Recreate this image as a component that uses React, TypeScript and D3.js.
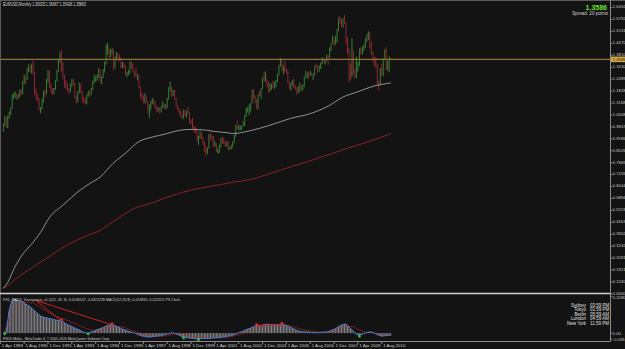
import React, { useEffect, useRef } from 'react';
import * as d3 from 'd3';

const W = 625;
const H = 349;

// EURUSD monthly bars, Jun 1989 .. Feb 2011 (one row per year)
const high = [
  1.005, 1.045, 1.040, 1.050, 1.070, 1.095, 1.165,
  1.175, 1.180, 1.170, 1.165, 1.190, 1.195, 1.240, 1.275, 1.265, 1.310, 1.330, 1.325,
  1.335, 1.350, 1.290, 1.195, 1.165, 1.145, 1.095, 1.140, 1.185, 1.190, 1.250, 1.300,
  1.295, 1.225, 1.200, 1.200, 1.245, 1.300, 1.355, 1.400, 1.410, 1.345, 1.275, 1.245,
  1.230, 1.200, 1.225, 1.250, 1.250, 1.230, 1.160, 1.185, 1.230, 1.225, 1.185, 1.150,
  1.145, 1.165, 1.185, 1.185, 1.200, 1.240, 1.275, 1.265, 1.275, 1.310, 1.305, 1.265,
  1.305, 1.345, 1.440, 1.450, 1.425, 1.415, 1.420, 1.415, 1.375, 1.400, 1.395, 1.385,
  1.370, 1.345, 1.340, 1.325, 1.290, 1.300, 1.350, 1.345, 1.335, 1.295, 1.310, 1.280,
  1.270, 1.210, 1.175, 1.160, 1.170, 1.160, 1.125, 1.110, 1.130, 1.145, 1.140, 1.125,
  1.100, 1.095, 1.090, 1.100, 1.125, 1.115, 1.110, 1.145, 1.205, 1.235, 1.205, 1.190,
  1.190, 1.145, 1.105, 1.090, 1.075, 1.055, 1.080, 1.080, 1.075, 1.095, 1.065, 1.025,
  1.035, 0.990, 0.985, 0.975, 0.935, 0.965, 0.955, 0.930, 0.905, 0.880, 0.870, 0.945,
  0.955, 0.940, 0.935, 0.905, 0.895, 0.865, 0.885, 0.925, 0.930, 0.925, 0.905, 0.905,
  0.905, 0.875, 0.885, 0.905, 0.940, 0.995, 1.020, 0.995, 0.995, 0.990, 1.015, 1.050,
  1.090, 1.095, 1.110, 1.120, 1.190, 1.195, 1.160, 1.140, 1.165, 1.185, 1.200, 1.260,
  1.290, 1.290, 1.250, 1.235, 1.225, 1.225, 1.240, 1.235, 1.245, 1.280, 1.330, 1.367,
  1.360, 1.325, 1.350, 1.310, 1.295, 1.235, 1.230, 1.245, 1.250, 1.215, 1.205, 1.210,
  1.230, 1.215, 1.220, 1.265, 1.295, 1.285, 1.290, 1.295, 1.285, 1.280, 1.325, 1.335,
  1.325, 1.325, 1.340, 1.370, 1.365, 1.355, 1.385, 1.380, 1.425, 1.450, 1.490, 1.475,
  1.490, 1.525, 1.590, 1.600, 1.585, 1.585, 1.604, 1.565, 1.480, 1.420, 1.335, 1.475,
  1.410, 1.305, 1.375, 1.345, 1.420, 1.425, 1.430, 1.445, 1.475, 1.500, 1.515, 1.510,
  1.455, 1.400, 1.375, 1.370, 1.335, 1.240, 1.310, 1.335, 1.365, 1.415, 1.428, 1.350,
  1.376, 1.3667,
];
const low = [
  0.958, 0.990, 0.980, 0.978, 1.030, 1.050, 1.085,
  1.140, 1.145, 1.135, 1.140, 1.150, 1.160, 1.165, 1.220, 1.225, 1.245, 1.290, 1.285,
  1.280, 1.275, 1.160, 1.135, 1.125, 1.075, 1.060, 1.080, 1.120, 1.150, 1.165, 1.230,
  1.200, 1.170, 1.160, 1.165, 1.190, 1.235, 1.290, 1.340, 1.290, 1.250, 1.200, 1.195,
  1.180, 1.165, 1.175, 1.205, 1.215, 1.140, 1.115, 1.120, 1.170, 1.170, 1.125, 1.115,
  1.110, 1.110, 1.150, 1.155, 1.160, 1.190, 1.225, 1.235, 1.240, 1.255, 1.230, 1.220,
  1.255, 1.285, 1.330, 1.385, 1.365, 1.370, 1.385, 1.300, 1.310, 1.355, 1.350, 1.350,
  1.310, 1.310, 1.310, 1.270, 1.260, 1.270, 1.280, 1.305, 1.285, 1.265, 1.260, 1.245,
  1.200, 1.145, 1.135, 1.115, 1.115, 1.115, 1.060, 1.035, 1.075, 1.110, 1.105, 1.085,
  1.065, 1.070, 1.060, 1.065, 1.090, 1.085, 1.080, 1.090, 1.135, 1.180, 1.150, 1.155,
  1.135, 1.095, 1.075, 1.055, 1.040, 1.025, 1.030, 1.045, 1.035, 1.055, 1.005, 1.000,
  0.970, 0.955, 0.950, 0.905, 0.885, 0.920, 0.915, 0.885, 0.845, 0.823, 0.835, 0.865,
  0.915, 0.905, 0.875, 0.875, 0.845, 0.837, 0.840, 0.870, 0.890, 0.890, 0.875, 0.875,
  0.855, 0.860, 0.860, 0.870, 0.895, 0.930, 0.970, 0.965, 0.965, 0.965, 0.985, 0.990,
  1.040, 1.065, 1.050, 1.070, 1.115, 1.140, 1.115, 1.085, 1.080, 1.155, 1.140, 1.195,
  1.235, 1.235, 1.205, 1.175, 1.180, 1.190, 1.200, 1.195, 1.205, 1.230, 1.270, 1.320,
  1.295, 1.275, 1.290, 1.280, 1.230, 1.195, 1.185, 1.210, 1.200, 1.190, 1.165, 1.170,
  1.180, 1.185, 1.185, 1.205, 1.260, 1.250, 1.255, 1.270, 1.265, 1.245, 1.270, 1.310,
  1.285, 1.290, 1.305, 1.330, 1.340, 1.330, 1.350, 1.330, 1.365, 1.405, 1.445, 1.430,
  1.440, 1.450, 1.515, 1.555, 1.535, 1.535, 1.555, 1.445, 1.390, 1.233, 1.245, 1.260,
  1.275, 1.250, 1.255, 1.290, 1.320, 1.385, 1.385, 1.405, 1.420, 1.455, 1.465, 1.420,
  1.385, 1.345, 1.325, 1.310, 1.220, 1.188, 1.215, 1.265, 1.265, 1.355, 1.297, 1.297,
  1.287, 1.3543,
];
const close = [
  0.997, 1.038, 0.995, 1.045, 1.062, 1.090, 1.158,
  1.160, 1.165, 1.150, 1.158, 1.175, 1.170, 1.235, 1.260, 1.245, 1.300, 1.320, 1.300,
  1.325, 1.285, 1.180, 1.150, 1.140, 1.085, 1.090, 1.125, 1.180, 1.170, 1.240, 1.290,
  1.210, 1.180, 1.170, 1.195, 1.240, 1.295, 1.345, 1.390, 1.330, 1.260, 1.215, 1.210,
  1.190, 1.180, 1.215, 1.240, 1.225, 1.150, 1.125, 1.175, 1.220, 1.180, 1.140, 1.125,
  1.115, 1.160, 1.175, 1.170, 1.195, 1.235, 1.255, 1.255, 1.265, 1.300, 1.240, 1.260,
  1.295, 1.335, 1.405, 1.420, 1.385, 1.405, 1.410, 1.320, 1.365, 1.390, 1.375, 1.365,
  1.320, 1.330, 1.320, 1.275, 1.280, 1.285, 1.335, 1.325, 1.290, 1.270, 1.265, 1.265,
  1.205, 1.160, 1.150, 1.120, 1.150, 1.120, 1.065, 1.090, 1.120, 1.135, 1.120, 1.095,
  1.075, 1.085, 1.070, 1.095, 1.110, 1.095, 1.105, 1.140, 1.195, 1.200, 1.165, 1.170,
  1.140, 1.100, 1.080, 1.060, 1.045, 1.035, 1.070, 1.060, 1.070, 1.060, 1.010, 1.005,
  0.970, 0.965, 0.955, 0.910, 0.935, 0.955, 0.925, 0.890, 0.880, 0.850, 0.870, 0.940,
  0.935, 0.920, 0.880, 0.890, 0.850, 0.850, 0.875, 0.915, 0.910, 0.900, 0.885, 0.890,
  0.860, 0.870, 0.870, 0.900, 0.935, 0.990, 0.980, 0.980, 0.985, 0.990, 0.995, 1.050,
  1.080, 1.080, 1.090, 1.120, 1.180, 1.150, 1.125, 1.100, 1.165, 1.160, 1.200, 1.260,
  1.245, 1.245, 1.230, 1.195, 1.220, 1.220, 1.200, 1.220, 1.240, 1.275, 1.330, 1.355,
  1.305, 1.325, 1.295, 1.290, 1.230, 1.210, 1.215, 1.230, 1.205, 1.200, 1.180, 1.185,
  1.215, 1.190, 1.210, 1.260, 1.280, 1.280, 1.275, 1.280, 1.270, 1.275, 1.325, 1.320,
  1.300, 1.325, 1.335, 1.365, 1.345, 1.350, 1.370, 1.365, 1.425, 1.450, 1.465, 1.460,
  1.485, 1.520, 1.580, 1.560, 1.555, 1.575, 1.560, 1.470, 1.410, 1.275, 1.270, 1.400,
  1.280, 1.265, 1.325, 1.325, 1.415, 1.405, 1.425, 1.435, 1.465, 1.470, 1.500, 1.435,
  1.385, 1.360, 1.350, 1.330, 1.230, 1.225, 1.305, 1.270, 1.365, 1.395, 1.300, 1.340,
  1.370, 1.35863,
];
const firstOpen = 0.980;
const bid = 1.35863;

// moving averages (bar index, price)
const maWhiteIdx = [0, 3, 8, 12, 20, 25, 31, 40, 51.5, 58, 65, 73.5, 83, 90.5, 98.5, 105, 110, 118.5, 127, 136.5, 141, 150, 154, 165.5, 179, 192.5, 206, 219, 228, 237.5, 248, 260];
const maWhite = [0.091, 0.124, 0.213, 0.268, 0.346, 0.401, 0.484, 0.551, 0.634, 0.671, 0.707, 0.781, 0.846, 0.901, 0.925, 0.938, 0.948, 0.966, 0.971, 0.966, 0.960, 0.953, 0.948, 0.963, 0.994, 1.031, 1.058, 1.104, 1.150, 1.178, 1.209, 1.228];
const maRedIdx = [0, 3, 8, 20, 29, 42.5, 53.5, 65, 76, 87.5, 98.5, 109, 121, 132, 143, 154, 165.5, 185.5, 207, 219, 230.5, 246, 260];
const maRed = [0.091, 0.105, 0.141, 0.209, 0.257, 0.329, 0.373, 0.412, 0.473, 0.532, 0.560, 0.592, 0.624, 0.645, 0.661, 0.678, 0.693, 0.744, 0.800, 0.833, 0.865, 0.905, 0.948];

const priceTicks = [1.6452, 1.57915, 1.5131, 1.44705, 1.381, 1.31495, 1.2489, 1.18285, 1.1168, 1.05075, 0.9847, 0.91865, 0.8526, 0.78655, 0.7205, 0.65445, 0.5884, 0.52235, 0.4563, 0.39025, 0.3242, 0.25815, 0.1921, 0.12605, 0.06];

const dateLabels = ['1 Apr 1989', '1 Aug 1990', '1 Dec 1991', '1 Apr 1993', '1 Aug 1994', '1 Dec 1995', '1 Apr 1997', '1 Aug 1998', '1 Dec 1999', '1 Apr 2001', '1 Aug 2002', '1 Dec 2003', '1 Apr 2005', '1 Aug 2006', '1 Dec 2007', '1 Apr 2009', '1 Aug 2010'];

// MACD(12,26,9) main per bar
const macd = [
  0.000, 0.002, 0.015, 0.070, 0.130, 0.165, 0.182,
  0.190, 0.191, 0.189, 0.186, 0.183, 0.180, 0.176, 0.172, 0.166, 0.160, 0.156, 0.150,
  0.143, 0.135, 0.127, 0.119, 0.111, 0.104, 0.098, 0.094, 0.091, 0.089, 0.087, 0.085,
  0.083, 0.081, 0.079, 0.077, 0.075, 0.073, 0.071, 0.070, 0.069, 0.066, 0.060, 0.054,
  0.049, 0.045, 0.042, 0.038, 0.034, 0.030, 0.026, 0.022, 0.019, 0.014, 0.009, 0.005,
  0.002, 0.000, 0.001, 0.004, 0.007, 0.010, 0.013, 0.016, 0.020, 0.023, 0.026, 0.029,
  0.032, 0.036, 0.040, 0.044, 0.047, 0.048, 0.047, 0.045, 0.042, 0.038, 0.034, 0.031,
  0.027, 0.023, 0.020, 0.017, 0.014, 0.011, 0.008, 0.006, 0.004, 0.001, -0.003, -0.007,
  -0.010, -0.013, -0.016, -0.018, -0.020, -0.021, -0.022, -0.022, -0.021, -0.020, -0.019, -0.018,
  -0.017, -0.016, -0.015, -0.013, -0.011, -0.009, -0.006, -0.004, -0.002, 0.000, 0.002, 0.001,
  -0.001, -0.004, -0.008, -0.012, -0.016, -0.020, -0.022, -0.024, -0.026, -0.027, -0.028, -0.029,
  -0.030, -0.031, -0.031, -0.032, -0.032, -0.031, -0.031, -0.030, -0.030, -0.031, -0.031, -0.030,
  -0.029, -0.028, -0.027, -0.026, -0.025, -0.025, -0.025, -0.024, -0.023, -0.021, -0.020, -0.018,
  -0.017, -0.015, -0.014, -0.012, -0.009, -0.005, -0.001, 0.003, 0.006, 0.009, 0.012, 0.016,
  0.020, 0.023, 0.026, 0.029, 0.033, 0.036, 0.039, 0.042, 0.043, 0.044, 0.045, 0.046,
  0.048, 0.050, 0.051, 0.050, 0.049, 0.048, 0.047, 0.046, 0.046, 0.046, 0.047, 0.048,
  0.049, 0.048, 0.046, 0.043, 0.040, 0.036, 0.032, 0.028, 0.024, 0.020, 0.016, 0.013,
  0.011, 0.009, 0.008, 0.007, 0.007, 0.006, 0.006, 0.005, 0.004, 0.003, 0.002, 0.002,
  0.002, 0.003, 0.004, 0.005, 0.006, 0.006, 0.007, 0.008, 0.011, 0.015, 0.019, 0.022,
  0.026, 0.031, 0.037, 0.042, 0.046, 0.049, 0.051, 0.050, 0.045, 0.035, 0.025, 0.020,
  0.010, 0.002, -0.006, -0.010, -0.012, -0.009, -0.005, -0.002, 0.001, 0.003, 0.005, 0.007,
  0.006, 0.004, 0.000, -0.004, -0.008, -0.012, -0.015, -0.017, -0.016, -0.015, -0.014, -0.012,
  -0.012, -0.0138,
];
const signalIdx = [0, 4, 8, 12, 16, 20, 26, 33, 39, 45, 52, 57, 63, 70, 75, 80, 85, 92, 98, 105, 112, 118, 123, 131, 138, 145, 154, 161, 170, 177, 187, 193, 199, 206, 212, 217, 224, 229, 234, 239, 243, 248, 253, 260];
const signal = [0.0, 0.06, 0.12, 0.16, 0.175, 0.17, 0.14, 0.105, 0.085, 0.065, 0.04, 0.022, 0.015, 0.028, 0.038, 0.035, 0.02, 0.0, -0.015, -0.018, -0.01, -0.004, -0.012, -0.024, -0.029, -0.027, -0.018, -0.002, 0.028, 0.043, 0.048, 0.04, 0.025, 0.012, 0.006, 0.005, 0.015, 0.035, 0.038, 0.018, 0.006, 0.003, -0.008, -0.012];
const peakIdx = [39, 73, 170, 187];
const troughIdx = [1, 57, 121, 131, 239];
const divFromIdx = [22, 22, 170];
const divFromVal = [0.185, 0.185, 0.042];
const divToIdx = [39, 73, 187];

const cities = ['Sydney', 'Tokyo', 'Berlin', 'London', 'New York'];
const clockTimes = ['03:59 PM', '01:59 PM', '05:59 AM', '04:59 AM', '11:59 PM'];

const FONT = '"Liberation Sans", Arial, sans-serif';

export default function App() {
  const svgRef = useRef<SVGSVGElement>(null);

  useEffect(() => {
    if (!svgRef.current) return;
    const svg = d3.select(svgRef.current);
    svg.selectAll('*').remove();

    const axisX = 610.5;
    const mainBottom = 293.5;
    const indTop = 295;
    const indBottom = 341.5;

    const x = d3.scaleLinear().domain([0, close.length - 1]).range([3.3, 390.7]);
    const y = d3.scaleLinear().domain([0.06, 1.6452]).range([293.9, 7.6]);
    const ym = d3.scaleLinear().domain([-0.035, 0.209]).range([339.3, 296.3]);

    svg.append('rect').attr('width', W).attr('height', H).attr('fill', '#131313');

    const defs = svg.append('defs');
    defs.append('clipPath').attr('id', 'mainClip')
      .append('rect').attr('x', 1).attr('y', 1).attr('width', axisX - 1).attr('height', mainBottom - 1);
    defs.append('clipPath').attr('id', 'indClip')
      .append('rect').attr('x', 1).attr('y', indTop).attr('width', axisX - 1).attr('height', indBottom - indTop);

    // price bars
    const main = svg.append('g').attr('clip-path', 'url(#mainClip)');
    const open = close.map((c, i) => (i === 0 ? firstOpen : close[i - 1]));
    main.selectAll('line.bar')
      .data(close)
      .join('line')
      .attr('class', 'bar')
      .attr('x1', (_, i) => x(i)).attr('x2', (_, i) => x(i))
      .attr('y1', (_, i) => y(high[i])).attr('y2', (_, i) => y(low[i]))
      .attr('stroke', (c, i) => (c >= open[i] ? '#3c9438' : '#a52c3a'))
      .attr('stroke-width', 0.85);

    // moving averages
    const maLine = d3.line<number>().curve(d3.curveMonotoneX);
    main.append('path')
      .attr('d', maLine.x((_, i) => x(maRedIdx[i])).y((v) => y(v))(maRed))
      .attr('fill', 'none').attr('stroke', '#9c2429').attr('stroke-width', 0.9);
    main.append('path')
      .attr('d', maLine.x((_, i) => x(maWhiteIdx[i])).y((v) => y(v))(maWhite))
      .attr('fill', 'none').attr('stroke', '#a9a9a9').attr('stroke-width', 0.85);

    // bid line
    svg.append('line')
      .attr('x1', 1).attr('x2', axisX).attr('y1', y(bid)).attr('y2', y(bid))
      .attr('stroke', '#8f7434').attr('stroke-width', 1.3);

    // header texts
    svg.append('text').attr('x', 3).attr('y', 6.2)
      .attr('font-family', FONT).attr('font-size', 4.8).attr('fill', '#d8d8d8')
      .attr('textLength', 83).attr('lengthAdjust', 'spacingAndGlyphs')
      .text('EURUSD,Monthly  1.36025 1.36667 1.35428 1.35863');
    svg.append('text').attr('x', 607).attr('y', 9.6).attr('text-anchor', 'end')
      .attr('font-family', FONT).attr('font-size', 7).attr('font-weight', 'bold').attr('fill', '#6fe12a')
      .text(bid.toFixed(4));
    svg.append('text').attr('x', 608).attr('y', 15.4).attr('text-anchor', 'end')
      .attr('font-family', FONT).attr('font-size', 4.6).attr('fill', '#cfcfcf')
      .text('Spread: 20 points');

    // indicator pane
    const ind = svg.append('g').attr('clip-path', 'url(#indClip)');
    ind.selectAll('line.hist')
      .data(macd)
      .join('line')
      .attr('class', 'hist')
      .attr('x1', (_, i) => x(i)).attr('x2', (_, i) => x(i))
      .attr('y1', ym(0)).attr('y2', (v) => ym(v))
      .attr('stroke', '#a3a3a8').attr('stroke-width', 0.8);
    ind.append('path')
      .attr('d', d3.line<number>().x((_, i) => x(signalIdx[i])).y((v) => ym(v)).curve(d3.curveMonotoneX)(signal))
      .attr('fill', 'none').attr('stroke', '#d42a2a').attr('stroke-width', 0.9).attr('stroke-dasharray', '1.2,0.9');
    ind.append('path')
      .attr('d', d3.line<number>().x((_, i) => x(i)).y((v) => ym(v))(macd))
      .attr('fill', 'none').attr('stroke', '#4a7bd2').attr('stroke-width', 1);
    divToIdx.forEach((to, k) => {
      ind.append('line')
        .attr('x1', x(divFromIdx[k])).attr('y1', ym(divFromVal[k]))
        .attr('x2', x(to)).attr('y2', ym(macd[to]))
        .attr('stroke', '#cc2020').attr('stroke-width', 1);
    });
    ind.selectAll('circle.peak').data(peakIdx).join('circle')
      .attr('cx', (i) => x(i)).attr('cy', (i) => ym(macd[i]) - 1).attr('r', 1.4).attr('fill', '#ee3030');
    ind.selectAll('circle.trough').data(troughIdx).join('circle')
      .attr('cx', (i) => x(i)).attr('cy', (i) => ym(macd[i]) + 1).attr('r', 1.4).attr('fill', '#2fc23a');

    svg.append('text').attr('x', 3).attr('y', 300.6)
      .attr('font-family', FONT).attr('font-size', 4.4).attr('fill', '#d0d0d0')
      .attr('textLength', 177).attr('lengthAdjust', 'spacingAndGlyphs')
      .text('FX5_MACD_Divergence_v1.1(12, 26, 9) -0.0130147 -0.0222228  MACD(12,26,9) -0.013815 -0.022221  PX Clock');
    svg.append('text').attr('x', 3).attr('y', 339.6)
      .attr('font-family', FONT).attr('font-size', 4.4).attr('fill', '#d0d0d0')
      .attr('textLength', 107).attr('lengthAdjust', 'spacingAndGlyphs')
      .text('FXDD Malta - MetaTrader 4, \u00a9 2001-2010 MetaQuotes Software Corp.');

    cities.forEach((c, k) => {
      const yy = 306.6 + k * 4.55;
      svg.append('text').attr('x', 586).attr('y', yy).attr('text-anchor', 'end')
        .attr('font-family', FONT).attr('font-size', 4.5).attr('fill', '#e0e0e0').text(c);
      svg.append('text').attr('x', 590).attr('y', yy)
        .attr('font-family', FONT).attr('font-size', 4.5).attr('fill', '#e0e0e0').text(clockTimes[k]);
    });

    // frame
    const frame = '#8c8c8c';
    svg.append('line').attr('x1', 0).attr('x2', W).attr('y1', 0.5).attr('y2', 0.5).attr('stroke', '#5c5c5c');
    svg.append('line').attr('x1', 0.5).attr('x2', 0.5).attr('y1', 0).attr('y2', indBottom).attr('stroke', '#5c5c5c');
    svg.append('line').attr('x1', axisX).attr('x2', axisX).attr('y1', 0).attr('y2', indBottom).attr('stroke', frame);
    svg.append('line').attr('x1', 0).attr('x2', axisX).attr('y1', mainBottom).attr('y2', mainBottom)
      .attr('stroke', '#d0d0d0').attr('stroke-width', 1.4);
    svg.append('line').attr('x1', 0).attr('x2', axisX).attr('y1', indBottom).attr('y2', indBottom).attr('stroke', frame);

    // price axis (labels shifted slightly up so the last one clears the indicator pane)
    const pa = svg.append('g');
    priceTicks.forEach((p) => {
      pa.append('line').attr('x1', axisX).attr('x2', axisX + 2).attr('y1', y(p)).attr('y2', y(p)).attr('stroke', frame);
      pa.append('text').attr('x', 612.8).attr('y', y(p)).attr('dy', '0.2em')
        .attr('font-family', FONT).attr('font-size', 4.2).attr('fill', '#c8c8c8').text(p.toFixed(4));
    });
    pa.append('rect').attr('x', axisX + 0.5).attr('y', y(bid) - 2.8).attr('width', W - axisX).attr('height', 5.6)
      .attr('fill', '#d2a83f');
    pa.append('text').attr('x', 612.8).attr('y', y(bid)).attr('dy', '0.35em')
      .attr('font-family', FONT).attr('font-size', 4.2).attr('fill', '#1a1a1a').text(bid.toFixed(4));

    // indicator axis
    const macdTicks = [0.209, 0, -0.035];
    const macdTickText = ['0.2090', '0.00', '-0.035'];
    const macdDy = ['0.75em', '0.35em', '0.3em'];
    macdTicks.forEach((v, k) => {
      pa.append('line').attr('x1', axisX).attr('x2', axisX + 2).attr('y1', ym(v)).attr('y2', ym(v)).attr('stroke', frame);
      pa.append('text').attr('x', 612.8).attr('y', ym(v)).attr('dy', macdDy[k])
        .attr('font-family', FONT).attr('font-size', 4.2).attr('fill', '#c8c8c8').text(macdTickText[k]);
    });

    // time axis
    dateLabels.forEach((label, n) => {
      const xi = x(-2 + 16 * n);
      pa.append('line').attr('x1', xi).attr('x2', xi).attr('y1', indBottom).attr('y2', indBottom + 2.5).attr('stroke', frame);
      pa.append('text').attr('x', xi + 1.4).attr('y', 347.4)
        .attr('font-family', FONT).attr('font-size', 4.4).attr('fill', '#c8c8c8').text(label);
    });
  }, []);

  return (
    <svg
      ref={svgRef}
      width={W}
      height={H}
      style={{ position: 'fixed', left: 0, top: 0, display: 'block' }}
    />
  );
}
